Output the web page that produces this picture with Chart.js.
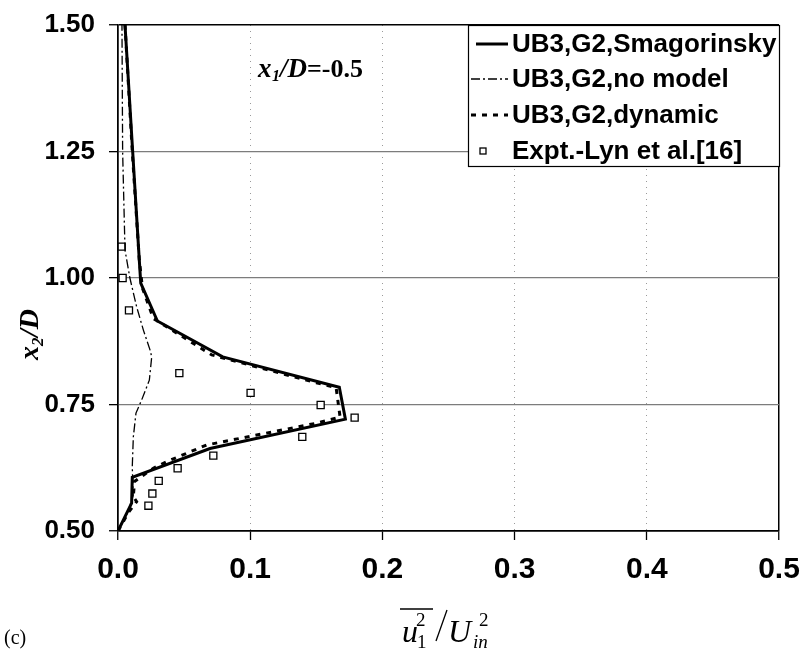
<!DOCTYPE html>
<html>
<head>
<meta charset="utf-8">
<script src="https://cdn.jsdelivr.net/npm/chart.js@4.4.0/dist/chart.umd.min.js"></script>
<style>
    html, body { margin: 0; padding: 0; background: #fff; }
    canvas { display: block; }
</style>
</head>
<body>
<canvas id="chart1" width="801" height="649"></canvas>
<script>
"use strict";

// 😊 データ (x: u1^2/Uin^2, y: x2/D)
const smagX = [0.000, 0.0103, 0.0108, 0.0696, 0.1720, 0.1674, 0.0792, 0.0298, 0.0172, 0.0161, 0.0111, 0.0053];
const smagY = [0.500, 0.555, 0.606, 0.663, 0.721, 0.784, 0.844, 0.915, 0.990, 1.036, 1.250, 1.500];

const noModelX = [0.000, 0.0070, 0.0115, 0.0108, 0.0116, 0.0136, 0.0179, 0.0237, 0.0255, 0.0242, 0.0192, 0.0141, 0.0090, 0.0053, 0.0035, 0.0030];
const noModelY = [0.500, 0.535, 0.570, 0.627, 0.686, 0.733, 0.759, 0.798, 0.844, 0.858, 0.897, 0.943, 1.000, 1.055, 1.250, 1.500];

const dynX = [0.000, 0.0080, 0.0141, 0.0116, 0.0125, 0.0267, 0.0368, 0.0670, 0.1500, 0.1680, 0.1650, 0.1500, 0.0709, 0.0267, 0.0185, 0.0161, 0.0108, 0.0053];
const dynY = [0.500, 0.537, 0.558, 0.568, 0.598, 0.624, 0.637, 0.670, 0.713, 0.725, 0.783, 0.793, 0.848, 0.920, 0.980, 1.036, 1.250, 1.500];

const exptX = [0.0028, 0.0035, 0.0083, 0.0464, 0.1003, 0.1533, 0.1790, 0.1394, 0.0721, 0.0451, 0.0308, 0.0260, 0.0230];
const exptY = [1.062, 1.000, 0.936, 0.812, 0.773, 0.749, 0.724, 0.686, 0.649, 0.624, 0.599, 0.574, 0.550];

const seriesLabels = ["UB3,G2,Smagorinsky", "UB3,G2,no model", "UB3,G2,dynamic", "Expt.-Lyn et al.[16]"];
const xTicks = [0, 0.1, 0.2, 0.3, 0.4, 0.5];
const yTicks = [0.5, 0.75, 1.0, 1.25, 1.5];

const toPoints = (xs, ys) => xs.map((x, i) => ({ x: x, y: ys[i] }));

const SANS = '"Liberation Sans", Arial, sans-serif';
const SERIF = '"Liberation Serif", "Times New Roman", serif';

// 内側のグリッドかどうか
const innerX = (c) => c.tick && c.tick.value > 0 && c.tick.value < 0.5;
const innerY = (c) => c.tick && c.tick.value > 0.5 && c.tick.value < 1.5;

// 👇 凡例・軸タイトルを描くプラグイン
const decorations = {
    id: "decorations",
    afterDraw(chart) {
        const ctx = chart.ctx;
        const area = chart.chartArea;
        ctx.save();

        // 凡例
        const bx = 468, by = area.top, bw = area.right + 1 - bx, bh = 142;
        ctx.fillStyle = "#fff";
        ctx.fillRect(bx, by, bw, bh);
        ctx.strokeStyle = "#000";
        ctx.lineWidth = 1.2;
        ctx.strokeRect(bx + 0.5, by + 0.5, bw - 1, bh - 1);

        const rowY = [44, 79, 115, 151];
        const textX = 512;
        chart.data.datasets.forEach((ds, i) => {
            const y = rowY[i];
            ctx.strokeStyle = "#000";
            if (ds.showLine) {
                ctx.lineWidth = ds.borderWidth;
                ctx.setLineDash(ds.borderDash || []);
                ctx.beginPath();
                ctx.moveTo(ds.borderDash ? bx + 3 : bx + 8, y);
                ctx.lineTo(textX - 4, y);
                ctx.stroke();
                ctx.setLineDash([]);
            } else {
                ctx.lineWidth = 1.3;
                ctx.fillStyle = "#fff";
                ctx.fillRect(bx + 12, y - 3, 6, 6);
                ctx.strokeRect(bx + 12, y - 3, 6, 6);
            }
            ctx.fillStyle = "#000";
            ctx.font = "bold 26px " + SANS;
            ctx.textBaseline = "middle";
            ctx.textAlign = "left";
            ctx.fillText(ds.label, textX, y + 1);
        });

        // 断面位置
        ctx.textBaseline = "alphabetic";
        ctx.font = "italic bold 27px " + SERIF;
        ctx.fillText("x", 258, 77);
        ctx.font = "italic bold 16px " + SERIF;
        ctx.fillText("1", 272, 81);
        ctx.font = "italic bold 27px " + SERIF;
        ctx.fillText("/D", 280, 77);
        const w = ctx.measureText("/D").width;
        ctx.font = "bold 26px " + SERIF;
        ctx.fillText("=-0.5", 280 + w, 77);

        // 縦軸タイトル
        ctx.save();
        ctx.translate(38, 360);
        ctx.rotate(-Math.PI / 2);
        ctx.font = "italic bold 28px " + SERIF;
        ctx.fillText("x", 0, 0);
        ctx.font = "italic bold 17px " + SERIF;
        ctx.fillText("2", 14, 5);
        ctx.font = "italic bold 28px " + SERIF;
        ctx.fillText("/D", 23, 0);
        ctx.restore();

        // 横軸タイトル
        ctx.font = "italic 32px " + SERIF;
        ctx.fillText("u", 402, 642);
        ctx.font = "19px " + SERIF;
        ctx.fillText("2", 416, 626);
        ctx.fillText("1", 417, 648);
        ctx.lineWidth = 1.3;
        ctx.beginPath();
        ctx.moveTo(400, 609);
        ctx.lineTo(433, 609);
        ctx.stroke();
        ctx.beginPath();
        ctx.moveTo(436, 641);
        ctx.lineTo(447, 610);
        ctx.stroke();
        ctx.font = "italic 32px " + SERIF;
        ctx.fillText("U", 448, 642);
        ctx.font = "19px " + SERIF;
        ctx.fillText("2", 479, 626);
        ctx.font = "italic 19px " + SERIF;
        ctx.fillText("in", 473, 648);

        ctx.font = "20px " + SERIF;
        ctx.fillText("(c)", 4, 644);
        ctx.restore();
    },
};

const chartData = {
    datasets: [
        {
            label: seriesLabels[0],
            data: toPoints(smagX, smagY),
            showLine: true,
            borderColor: "#000",
            borderWidth: 3,
            pointRadius: 0,
        },
        {
            label: seriesLabels[1],
            data: toPoints(noModelX, noModelY),
            showLine: true,
            borderColor: "#000",
            borderWidth: 1.3,
            borderDash: [9, 3, 2, 3],
            pointRadius: 0,
        },
        {
            label: seriesLabels[2],
            data: toPoints(dynX, dynY),
            showLine: true,
            borderColor: "#000",
            borderWidth: 3,
            borderDash: [5, 6],
            pointRadius: 0,
        },
        {
            label: seriesLabels[3],
            data: toPoints(exptX, exptY),
            showLine: false,
            pointStyle: "rect",
            pointRadius: 5,
            pointBorderWidth: 1.3,
            pointBorderColor: "#000",
            pointBackgroundColor: "#fff",
        },
    ],
};

const chartOptions = {
    responsive: false,
    animation: false,
    devicePixelRatio: 1,
    layout: { padding: { top: 25, right: 22, left: 0, bottom: 0 } },
    plugins: {
        legend: { display: false },
        tooltip: { enabled: false },
    },
    scales: {
        x: {
            type: "linear",
            min: 0,
            max: 0.5,
            afterBuildTicks: (scale) => {
                scale.ticks = xTicks.map((v) => ({ value: v }));
            },
            afterFit: (scale) => {
                scale.height = 118;
                scale.paddingLeft = 0;
                scale.paddingRight = 0;
            },
            ticks: {
                color: "#000",
                padding: 12,
                maxRotation: 0,
                font: { family: SANS, size: 30, weight: "bold" },
                callback: (v) => v.toFixed(1),
            },
            grid: {
                color: (c) => (innerX(c) ? "#9a9a9a" : "#000"),
                lineWidth: (c) => (innerX(c) ? 1 : 1.5),
                tickColor: "#000",
                tickLength: 9,
                tickWidth: 1.3,
            },
            border: {
                color: "#000",
                width: 1.5,
                dash: (c) => (innerX(c) ? [1, 5] : []),
            },
        },
        y: {
            type: "linear",
            min: 0.5,
            max: 1.5,
            afterBuildTicks: (scale) => {
                scale.ticks = yTicks.map((v) => ({ value: v }));
            },
            afterFit: (scale) => {
                scale.width = 118;
                scale.paddingTop = 0;
                scale.paddingBottom = 0;
            },
            ticks: {
                color: "#000",
                padding: 14,
                font: { family: SANS, size: 26, weight: "bold" },
                callback: (v) => v.toFixed(2),
            },
            grid: {
                color: (c) => (innerY(c) ? "#7c7c7c" : "#000"),
                lineWidth: (c) => (innerY(c) ? 1.3 : 1.5),
                tickColor: "#000",
                tickLength: 9,
                tickWidth: 1.3,
            },
            border: { color: "#000", width: 1.5 },
        },
    },
};

const context = document.getElementById("chart1").getContext("2d");
const myChart = new Chart(context, {
    type: "scatter",
    data: chartData,
    options: chartOptions,
    plugins: [decorations],
});
</script>
</body>
</html>
